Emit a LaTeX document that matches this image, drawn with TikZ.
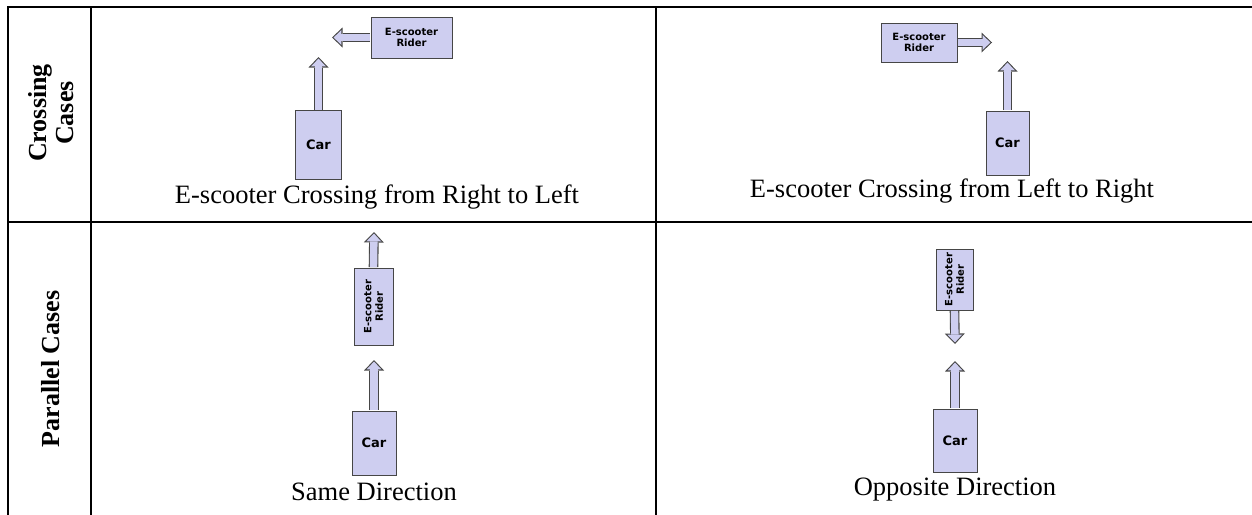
\documentclass[tikz,border=0pt]{standalone}
\usepackage{fontspec}
\setmainfont{Liberation Serif}
\newfontfamily\boxfont{DejaVu Sans}
\usetikzlibrary{arrows.meta}
\definecolor{boxfill}{RGB}{206,206,240}
\definecolor{boxedge}{RGB}{70,70,70}

\begin{document}
\begin{tikzpicture}[x=1pt, y=-1pt,
  rule/.style={line width=2pt, black, line cap=rect},
  vehicle/.style={draw=boxedge, fill=boxfill, line width=0.9pt, inner sep=0pt,
    font=\boxfont\bfseries\fontsize{13}{15}\selectfont},
  rider/.style={vehicle, align=center, font=\boxfont\bfseries\fontsize{10}{11.5}\selectfont},
  caption/.style={font=\fontsize{26.5}{30}\selectfont},
  rowlabel/.style={rotate=90, align=center, font=\bfseries\fontsize{26}{27}\selectfont},
  motion/.style={draw=boxedge, line width=9.6pt, shorten <=0.45pt,
    -{Triangle[width=20pt, length=10.5pt, line width=0pt]},
    postaction={draw=boxfill, line width=7.4pt, shorten >=1.6pt,
      -{Triangle[width=14.8pt, length=7.8pt, line width=0pt]}}}]
  \useasboundingbox (0,0) rectangle (1252,514);
  % ---------------- table rules and row labels ----------------
  \draw[rule] (8,7) -- (1252,7);
  \draw[rule] (8,222) -- (1252,222);
  \foreach \x in {8,91,656}
    \draw[rule] (\x,7) -- (\x,514);
  \node[rowlabel] (crosslab) at (51,113) {Crossing\\Cases};
  \node[rowlabel] (parlab) at (51,369) {Parallel Cases};
  % ---------------- crossing from right to left ----------------
  \node[vehicle, minimum width=46pt, minimum height=69pt] (car1) at (318.5,145) {Car};
  \node[rider, minimum width=81pt, minimum height=41pt] (rider1) at (411.5,37.5) {E-scooter\\Rider};
  \coordinate (car1tip) at (318.5,57);
  \coordinate (rider1tip) at (332,37.5);
  \draw[motion] (car1.north) -- (car1tip);
  \draw[motion] (rider1.west) -- (rider1tip);
  \node[caption] (cap1) at (377,197) {E-scooter Crossing from Right to Left};
  % ---------------- crossing from left to right ----------------
  \node[vehicle, minimum width=43pt, minimum height=64pt] (car2) at (1007.5,143) {Car};
  \node[rider, minimum width=76pt, minimum height=39pt] (rider2) at (919,42.5) {E-scooter\\Rider};
  \coordinate (car2tip) at (1007.5,61);
  \coordinate (rider2tip) at (992,42.5);
  \draw[motion] (car2.north) -- (car2tip);
  \draw[motion] (rider2.east) -- (rider2tip);
  \node[caption] (cap2) at (952,191) {E-scooter Crossing from Left to Right};
  % ---------------- parallel, same direction ----------------
  \node[vehicle, minimum width=44pt, minimum height=64pt] (car3) at (374,443) {Car};
  \node[rider, rotate=90, minimum width=77pt, minimum height=39pt] (rider3) at (373.5,306.5) {E-scooter\\Rider};
  \coordinate (car3tip) at (374,360);
  \coordinate (rider3tip) at (374,232);
  \draw[motion] (car3.north) -- (car3tip);
  \draw[motion] (rider3.east) -- (rider3tip);
  \node[caption] (cap3) at (374,492) {Same Direction};
  % ---------------- parallel, opposite direction ----------------
  \node[vehicle, minimum width=44pt, minimum height=63pt] (car4) at (955,440.5) {Car};
  \node[rider, rotate=90, minimum width=61pt, minimum height=37pt] (rider4) at (954.5,279.5) {E-scooter\\Rider};
  \coordinate (car4tip) at (955,361);
  \coordinate (rider4tip) at (955,344);
  \draw[motion] (car4.north) -- (car4tip);
  \draw[motion] (rider4.west) -- (rider4tip);
  \node[caption] (cap4) at (955,490) {Opposite Direction};
\end{tikzpicture}
\end{document}
